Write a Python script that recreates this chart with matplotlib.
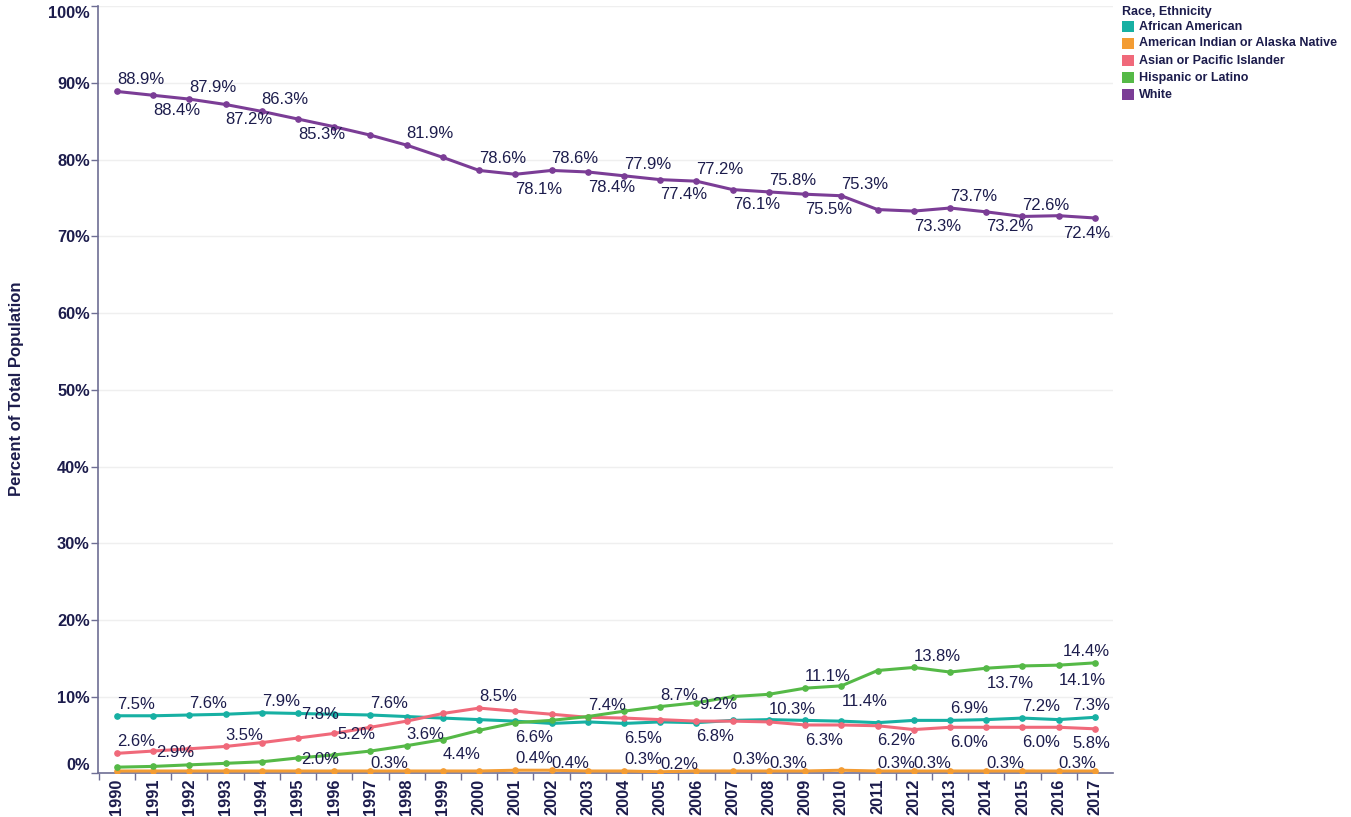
import matplotlib
matplotlib.use("Agg")
import matplotlib.pyplot as plt
from matplotlib.patches import Rectangle
from matplotlib.ticker import FixedLocator

plt.rcParams['font.family'] = ['Liberation Sans', 'DejaVu Sans']

# ---------------- data ----------------
years = list(range(1990, 2018))

african_american = [7.5, 7.5, 7.6, 7.7, 7.9, 7.8, 7.7, 7.6, 7.4, 7.2,
                     7.0, 6.8, 6.5, 6.7, 6.5, 6.7, 6.6, 6.9, 7.0, 6.9,
                     6.8, 6.6, 6.9, 6.9, 7.0, 7.2, 7.0, 7.3]
american_indian = [0.3, 0.3, 0.3, 0.3, 0.3, 0.3, 0.3, 0.3, 0.3, 0.3,
                   0.3, 0.4, 0.4, 0.3, 0.3, 0.2, 0.3, 0.3, 0.3, 0.3,
                   0.4, 0.3, 0.3, 0.3, 0.3, 0.3, 0.3, 0.3]
asian_pi = [2.6, 2.9, 3.2, 3.5, 4.0, 4.6, 5.2, 6.0, 6.8, 7.8,
            8.5, 8.1, 7.7, 7.3, 7.2, 7.0, 6.8, 6.8, 6.7, 6.3,
            6.3, 6.2, 5.7, 6.0, 6.0, 6.0, 6.0, 5.8]
hispanic = [0.8, 0.9, 1.1, 1.3, 1.5, 2.0, 2.4, 2.9, 3.6, 4.4,
            5.6, 6.6, 6.9, 7.4, 8.1, 8.7, 9.2, 10.0, 10.3, 11.1,
            11.4, 13.4, 13.8, 13.2, 13.7, 14.0, 14.1, 14.4]
white = [88.9, 88.4, 87.9, 87.2, 86.3, 85.3, 84.3, 83.2, 81.9, 80.3,
         78.6, 78.1, 78.6, 78.4, 77.9, 77.4, 77.2, 76.1, 75.8, 75.5,
         75.3, 73.5, 73.3, 73.7, 73.2, 72.6, 72.7, 72.4]

series_names = ["African American", "American Indian or Alaska Native",
                "Asian or Pacific Islander", "Hispanic or Latino", "White"]
series_values = [african_american, american_indian, asian_pi, hispanic, white]
series_colors = ["#17b0a3", "#f39c33", "#f0697a", "#55b947", "#7b3d96"]

y_ticks = [0, 10, 20, 30, 40, 50, 60, 70, 80, 90, 100]

# which points carry a visible data label, and where (a=above, b=below, r=right, n=near above)
label_places = [
    {1990: 'a', 1992: 'a', 1994: 'a', 1995: 'r', 1997: 'a', 2004: 'b',
     2013: 'a', 2015: 'a', 2017: 'a'},
    {1997: 'n', 2001: 'a', 2002: 'n', 2004: 'a', 2005: 'n', 2007: 'a',
     2008: 'n', 2011: 'n', 2012: 'n', 2014: 'n', 2016: 'n'},
    {1990: 'a', 1991: 'r', 1993: 'a', 1996: 'r', 2000: 'a', 2006: 'b',
     2009: 'b', 2011: 'b', 2013: 'b', 2015: 'b', 2017: 'b'},
    {1995: 'r', 1998: 'a', 1999: 'b', 2001: 'b', 2003: 'a', 2005: 'a',
     2006: 'r', 2008: 'b', 2009: 'a', 2010: 'b', 2012: 'a', 2014: 'b',
     2016: 'b', 2017: 'a'},
    {1990: 'a', 1991: 'b', 1992: 'a', 1993: 'b', 1994: 'a', 1995: 'b',
     1998: 'a', 2000: 'a', 2001: 'b', 2002: 'a', 2003: 'b', 2004: 'a',
     2005: 'b', 2006: 'a', 2007: 'b', 2008: 'a', 2009: 'b', 2010: 'a',
     2012: 'b', 2013: 'a', 2014: 'b', 2015: 'a', 2017: 'b'},
]

# ---------------- figure ----------------
W, H = 1351, 817
fig = plt.figure(figsize=(W / 100, H / 100), dpi=100)
ax = fig.add_axes([98 / W, 1 - 773.3 / H, (1112.7 - 98) / W, (773.3 - 6.3) / H])

txt_col = "#1c1c4c"
axis_col = "#6e6e94"

for vals, col in zip(series_values, series_colors):
    ax.plot(years, vals, color=col, lw=2.2, marker='o', ms=3.8, zorder=3,
            solid_capstyle='round')

offsets = {'a': (0, 5.0, 'baseline'), 'b': (0, -5.5, 'top'),
           'r': (2.0, -4.2, 'baseline'), 'n': (0, 1.8, 'baseline')}
for vals, places in zip(series_values, label_places):
    for yr, pos in places.items():
        v = vals[years.index(yr)]
        dx, dy, va = offsets[pos]
        ha = 'left'
        if yr == years[-1]:
            ha = 'right'
            dx = 11
        ax.annotate(f"{v:.1f}%", (yr, v), xytext=(dx, dy),
                    textcoords='offset points', ha=ha, va=va,
                    fontsize=12, color=txt_col, zorder=5)

ax.set_xlim(1989.48, 2017.49)
ax.set_ylim(0, 100)

ax.set_yticks(y_ticks)
ax.set_yticklabels([f"{t}%" for t in y_ticks])
ax.yaxis.grid(True, color="#efefef", lw=1)
ax.set_axisbelow(True)

ax.set_xticks(years)
ax.set_xticklabels([str(y) for y in years], rotation=90)
ax.xaxis.set_minor_locator(FixedLocator([y + 0.5 for y in range(1989, 2018)]))
ax.tick_params(axis='x', which='major', length=0, pad=4)
ax.tick_params(axis='x', which='minor', length=5, color=axis_col, width=1)
ax.tick_params(axis='y', length=5, color=axis_col, width=1, pad=1)

for lab in ax.get_xticklabels() + ax.get_yticklabels():
    lab.set_fontweight('bold')
    lab.set_color(txt_col)
    lab.set_fontsize(11.8)
ylabs = ax.get_yticklabels()
ylabs[0].set_va('bottom')
ylabs[-1].set_va('top')

for s in ['top', 'right']:
    ax.spines[s].set_visible(False)
for s in ['left', 'bottom']:
    ax.spines[s].set_color(axis_col)
    ax.spines[s].set_linewidth(1.2)

fig.text(17 / W, 1 - 389 / H, "Percent of Total Population", rotation=90,
         ha='center', va='center', fontsize=12, fontweight='bold', color=txt_col)

# legend
fig.text(1122 / W, 1 - 12 / H, "Race, Ethnicity", ha='left', va='center',
         fontsize=9, fontweight='bold', color=txt_col)
for i, (name, col) in enumerate(zip(series_names, series_colors)):
    yc = 26.5 + 17 * i
    fig.add_artist(Rectangle((1122 / W, 1 - (yc + 5.5) / H), 12 / W, 11 / H,
                             transform=fig.transFigure, color=col, lw=0))
    fig.text(1139 / W, 1 - yc / H, name, ha='left', va='center',
             fontsize=9, fontweight='bold', color=txt_col)

fig.savefig("out.png", dpi=100)
